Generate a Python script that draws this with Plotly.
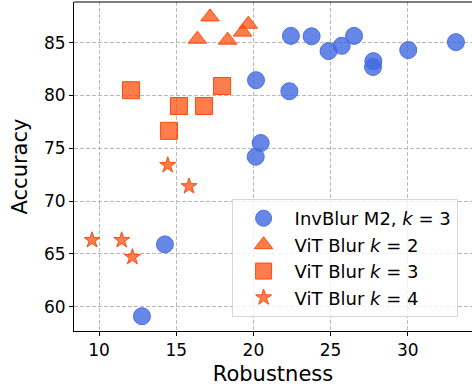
import plotly.graph_objects as go

# Robustness / accuracy measurements per model family
inv_rob = [22.43, 23.77, 24.87, 25.72, 26.52, 27.77, 27.75, 30.03, 33.12,
           20.17, 22.33, 20.47, 20.15, 14.27, 12.78]
inv_acc = [85.64, 85.6, 84.2, 84.7, 85.64, 83.25, 82.7, 84.3, 85.05,
           81.45, 80.4, 75.5, 74.2, 65.9, 59.1]

vit2_rob = [17.19, 16.37, 18.33, 19.3, 19.67]
vit2_acc = [87.44, 85.33, 85.24, 86.0, 86.75]

vit3_rob = [12.07, 15.18, 16.8, 17.97, 14.53]
vit3_acc = [80.5, 79.0, 79.0, 80.9, 76.65]

vit4_rob = [14.45, 15.83, 9.55, 11.47, 12.16]
vit4_acc = [73.4, 71.4, 66.3, 66.3, 64.7]

x_ticks = [10, 15, 20, 25, 30]
y_ticks = [60, 65, 70, 75, 80, 85]

BLUE_FILL = "rgba(65,105,225,0.8)"
BLUE_EDGE = "rgb(75,110,228)"
ORANGE_FILL = "rgba(255,69,0,0.7)"
ORANGE_EDGE = "rgb(255,75,15)"

fig = go.Figure()
fig.add_trace(go.Scatter(
    x=inv_rob, y=inv_acc, mode="markers", name="InvBlur M2, <i>k</i> = 3",
    marker=dict(symbol="circle", size=17, color=BLUE_FILL,
                line=dict(color=BLUE_EDGE, width=1))))
fig.add_trace(go.Scatter(
    x=vit2_rob, y=vit2_acc, mode="markers", name="ViT Blur <i>k</i> = 2",
    marker=dict(symbol="triangle-up", size=16, color=ORANGE_FILL,
                line=dict(color=ORANGE_EDGE, width=1))))
fig.add_trace(go.Scatter(
    x=vit3_rob, y=vit3_acc, mode="markers", name="ViT Blur <i>k</i> = 3",
    marker=dict(symbol="square", size=17, color=ORANGE_FILL,
                line=dict(color=ORANGE_EDGE, width=1))))
fig.add_trace(go.Scatter(
    x=vit4_rob, y=vit4_acc, mode="markers", name="ViT Blur <i>k</i> = 4",
    marker=dict(symbol="star", size=12, color=ORANGE_FILL,
                line=dict(color=ORANGE_EDGE, width=1))))

axis_common = dict(
    showline=True, linecolor="black", linewidth=1,
    ticks="outside", ticklen=4, tickwidth=1, tickcolor="black",
    showgrid=True, gridcolor="rgb(185,185,185)", gridwidth=1, griddash="4px,2px",
    zeroline=False, tickfont=dict(size=17, color="black"),
)

fig.update_layout(
    width=472, height=389,
    margin=dict(l=74, r=0, t=2, b=58),
    paper_bgcolor="white", plot_bgcolor="white",
    font=dict(family="DejaVu Sans", color="black"),
    showlegend=True,
    legend=dict(
        x=0.396, y=0.401, xanchor="left", yanchor="top",
        bgcolor="rgba(255,255,255,0.8)", bordercolor="rgb(215,215,215)",
        borderwidth=1, font=dict(size=18, color="black"),
        itemsizing="trace", itemwidth=52,
    ),
    xaxis=dict(axis_common, range=[8.38, 34.16], tickvals=x_ticks,
               title=dict(text="Robustness", font=dict(size=21), standoff=6)),
    yaxis=dict(axis_common, range=[57.7, 88.85], tickvals=y_ticks,
               title=dict(text="Accuracy", font=dict(size=21), standoff=10)),
    shapes=[dict(type="line", xref="paper", yref="paper", x0=0, x1=1, y0=1, y1=1,
                 line=dict(color="black", width=1))],
)

fig.write_html("out.html")
